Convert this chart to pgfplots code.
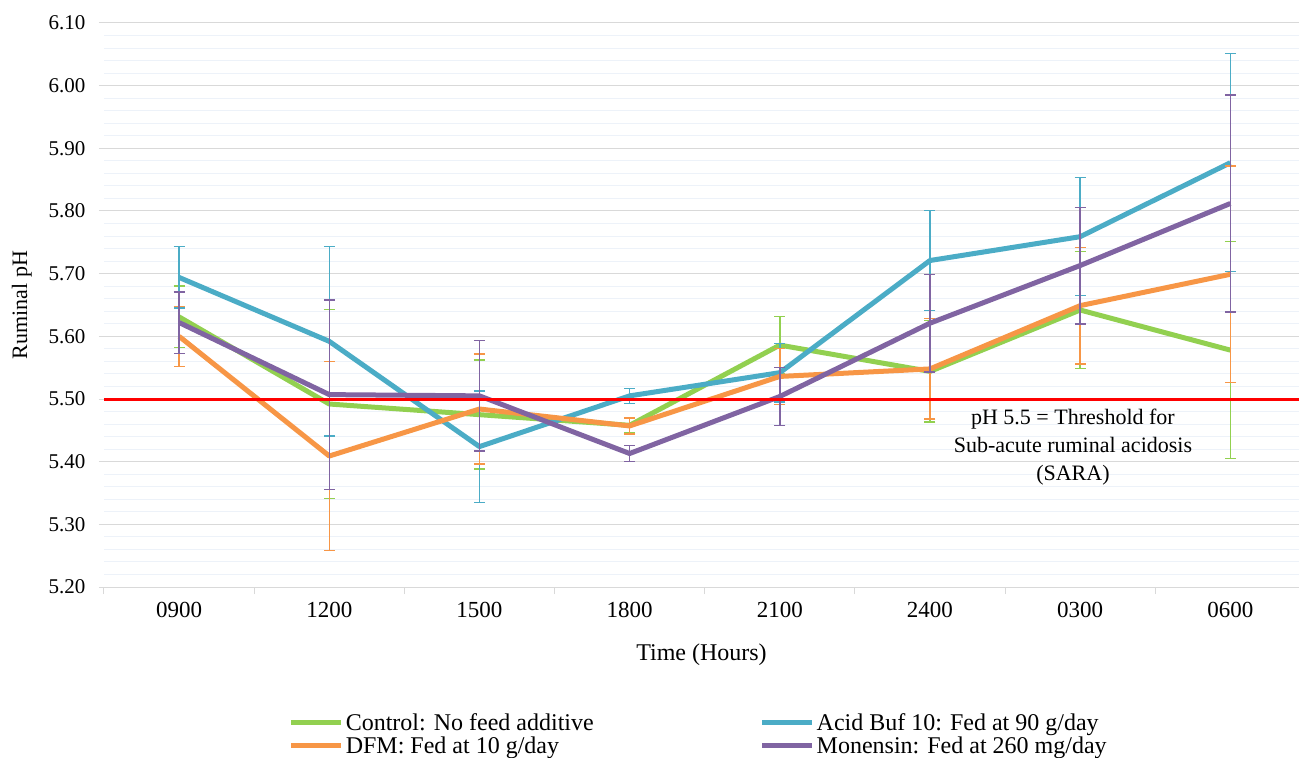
\documentclass[border=0pt]{standalone}
\usepackage{fontspec}
\setmainfont{Liberation Serif}
\usepackage{pgfplots}
\usepackage{pgfplotstable}
\pgfplotsset{compat=1.18}
\definecolor{cctrl}{HTML}{92D050}
\definecolor{cacid}{HTML}{4BACC6}
\definecolor{cdfm}{HTML}{F79646}
\definecolor{cmon}{HTML}{8064A2}
\definecolor{gmaj}{HTML}{D9D9D9}
\definecolor{gmin}{HTML}{EDF2F9}

\pgfplotstableread{
x y e
0 5.631 0.049
1 5.492 0.151
2 5.475 0.087
3 5.458 0.012
4 5.586 0.046
5 5.544 0.081
6 5.642 0.093
7 5.578 0.173
}\ctrl
\pgfplotstableread{
x y e
0 5.694 0.049
1 5.592 0.151
2 5.424 0.089
3 5.505 0.012
4 5.542 0.047
5 5.721 0.080
6 5.759 0.094
7 5.877 0.174
}\acid
\pgfplotstableread{
x y e
0 5.600 0.048
1 5.409 0.151
2 5.484 0.088
3 5.457 0.013
4 5.536 0.045
5 5.548 0.080
6 5.649 0.093
7 5.699 0.173
}\dfm
\pgfplotstableread{
x y e
0 5.622 0.049
1 5.507 0.151
2 5.505 0.088
3 5.413 0.013
4 5.504 0.046
5 5.621 0.078
6 5.713 0.093
7 5.812 0.173
}\mon

\begin{document}
\begin{tikzpicture}
\begin{axis}[
  name=ax,
  scale only axis,
  width=1195bp, height=564bp,
  xmin=-0.5, xmax=7.457,
  ymin=5.2, ymax=6.1,
  separate axis lines,
  axis x line*=bottom,
  axis y line*=left,
  y axis line style={draw=none},
  x axis line style={draw=gmaj, line width=1bp},
  xtick={0,1,2,3,4,5,6,7},
  xticklabels={0900,1200,1500,1800,2100,2400,0300,0600},
  minor xtick={-0.5,0.5,1.5,2.5,3.5,4.5,5.5,6.5},
  ytick={5.2,5.3,5.4,5.5,5.6,5.7,5.8,5.9,6.0,6.1},
  yticklabels={5.20,5.30,5.40,5.50,5.60,5.70,5.80,5.90,6.00,6.10},
  minor y tick num=4,
  ymajorgrids, yminorgrids,
  major grid style={draw=gmaj, line width=1bp},
  minor grid style={draw=gmin, line width=1bp},
  tick align=outside,
  major tick length=5bp,
  minor tick length=7bp,
  major x tick style={draw=none},
  minor x tick style={draw=gmaj, line width=1bp},
  major y tick style={draw=gmaj, line width=1bp},
  minor y tick style={draw=none},
  xticklabel style={font=\fontsize{23bp}{27bp}\selectfont, yshift=-7bp},
  yticklabel style={font=\fontsize{21bp}{25bp}\selectfont, xshift=-10bp},
  xlabel={Time (Hours)},
  ylabel={Ruminal pH},
  xlabel style={font=\fontsize{24bp}{28bp}\selectfont, yshift=-19bp},
  ylabel style={font=\fontsize{22bp}{26bp}\selectfont, yshift=10bp},
  legend columns=2,
  legend cell align=left,
  legend style={draw=none, fill=none, at={(0.1545,-0.22)}, anchor=north west,
    font=\fontsize{24bp}{26bp}\selectfont, inner sep=0pt, row sep=1bp,
    /tikz/every even column/.append style={column sep=164bp}},
  legend image code/.code={\draw[#1, line width=5bp] (0bp,0bp) -- (50bp,0bp);},
  error bars/y dir=both,
  error bars/y explicit,
]
\addplot[cctrl, line width=5bp, line join=round,
  error bars/error bar style={line width=1.4bp, cctrl},
  error bars/error mark options={rotate=90, mark size=5.5bp, line width=1.4bp, cctrl}]
  table[x=x, y=y, y error=e]{\ctrl};
\addlegendentry{Control: No feed additive}
\addplot[cacid, line width=5bp, line join=round,
  error bars/error bar style={line width=1.4bp, cacid},
  error bars/error mark options={rotate=90, mark size=5.5bp, line width=1.4bp, cacid}]
  table[x=x, y=y, y error=e]{\acid};
\addlegendentry{Acid Buf 10: Fed at 90 g/day}
\addplot[cdfm, line width=5bp, line join=round,
  error bars/error bar style={line width=1.4bp, cdfm},
  error bars/error mark options={rotate=90, mark size=5.5bp, line width=1.4bp, cdfm}]
  table[x=x, y=y, y error=e]{\dfm};
\addlegendentry{DFM: Fed at 10 g/day}
\addplot[cmon, line width=5bp, line join=round,
  error bars/error bar style={line width=1.4bp, cmon},
  error bars/error mark options={rotate=90, mark size=5.5bp, line width=1.4bp, cmon}]
  table[x=x, y=y, y error=e]{\mon};
\addlegendentry{Monensin: Fed at 260 mg/day}
\addplot[red, line width=3bp, forget plot, error bars/y dir=none] coordinates {(-0.5,5.5) (7.457,5.5)};
\node[align=center, font=\fontsize{22bp}{28bp}\selectfont] at (axis cs:5.952,5.4236)
  {pH 5.5 = Threshold for\\Sub-acute ruminal acidosis\\(SARA)};
\end{axis}
\pgfresetboundingbox
\path ([shift={(-104bp,-171bp)}]ax.south west) rectangle ++(1299bp,758bp);
\end{tikzpicture}
\end{document}
